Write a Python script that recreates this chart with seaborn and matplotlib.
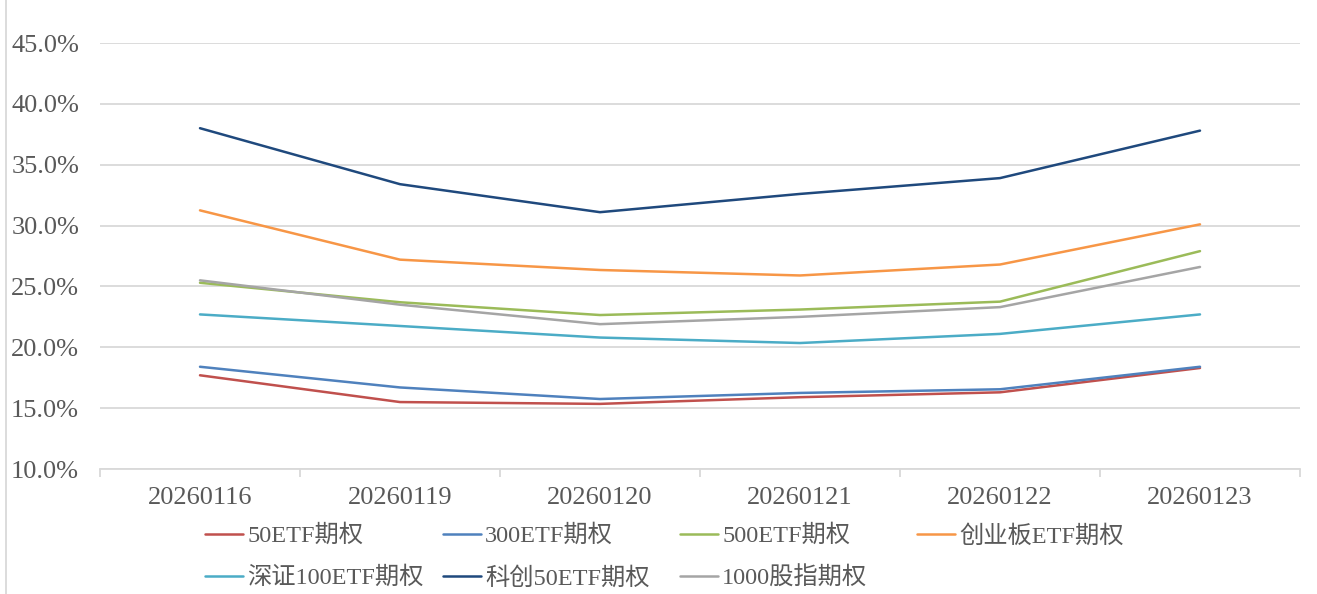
import numpy as np
import pandas as pd
import matplotlib
matplotlib.use('Agg')
import matplotlib.pyplot as plt
import seaborn as sns
from matplotlib.lines import Line2D
from matplotlib.ticker import FuncFormatter, FixedLocator

# data (implied vol, %)
dates = ['20260116', '20260119', '20260120', '20260121', '20260122', '20260123']
etf50 = [17.7, 15.5, 15.35, 15.9, 16.3, 18.3]
etf300 = [18.4, 16.7, 15.75, 16.25, 16.55, 18.4]
etf500 = [25.3, 23.7, 22.65, 23.1, 23.75, 27.9]
cyb = [31.25, 27.2, 26.35, 25.9, 26.8, 30.1]
sz100 = [22.7, 21.75, 20.8, 20.35, 21.1, 22.7]
kc50 = [38.0, 33.4, 31.1, 32.6, 33.9, 37.8]
idx1000 = [25.5, 23.5, 21.9, 22.5, 23.3, 26.6]

names = ['50ETF期权', '300ETF期权', '500ETF期权', '创业板ETF期权',
         '深证100ETF期权', '科创50ETF期权', '1000股指期权']
series = [etf50, etf300, etf500, cyb, sz100, kc50, idx1000]
colors = ['#C0504D', '#4F81BD', '#9BBB59', '#F79646', '#4BACC6', '#1F497D', '#A5A5A5']

rows = []
for n, vals in zip(names, series):
    for i, (d, v) in enumerate(zip(dates, vals)):
        rows.append({'pos': i, 'date': d, 'name': n, 'value': v})
df = pd.DataFrame(rows)

sns.set_style('white')
plt.rcParams['font.family'] = ['Liberation Serif', 'Noto Sans CJK SC', 'DejaVu Sans']
txt = '#595959'
grid_c = '#D9D9D9'

fig = plt.figure(figsize=(13.17, 5.94), dpi=100)
ax = fig.add_axes([100/1317, 1 - 469/594, 1200/1317, 426/594])

sns.lineplot(data=df, x='pos', y='value', hue='name', hue_order=names,
             palette=colors, linewidth=1.8, sort=False, legend=False, ax=ax)

ax.set_xlim(-0.5, 5.5)
ax.set_ylim(10, 45)
ax.set_yticks(np.arange(10, 46, 5))
ax.yaxis.set_major_formatter(FuncFormatter(lambda v, p: f'{v:.1f}%'))
ax.yaxis.grid(True, color=grid_c, linewidth=1.3)
ax.set_axisbelow(True)

ax.set_xticks(range(len(dates)))
ax.set_xticklabels(dates)
ax.xaxis.set_minor_locator(FixedLocator(np.arange(-0.5, 6, 1)))
ax.tick_params(axis='x', which='major', length=0, pad=13, labelsize=19, labelcolor=txt)
ax.tick_params(axis='x', which='minor', length=6, width=1.3, color=grid_c, bottom=True)
ax.tick_params(axis='y', length=0, pad=15, labelsize=19, labelcolor=txt)
ax.set_xlabel('')
ax.set_ylabel('')

for s in ['top', 'right', 'left']:
    ax.spines[s].set_visible(False)
ax.spines['bottom'].set_color(grid_c)
ax.spines['bottom'].set_linewidth(1.3)

# legend laid out on a fixed grid like the Excel original
col_x = [205/1317, 443/1317, 680/1317, 917/1317]
row_y = [1 - 536/594, 1 - 578/594]
for k, (n, c) in enumerate(zip(names, colors)):
    r, col = divmod(k, 4)
    h = Line2D([], [], color=c, linewidth=1.8)
    leg = fig.legend([h], [n], loc='center left', bbox_to_anchor=(col_x[col], row_y[r]),
                     frameon=False, fontsize=17.5, borderpad=0, borderaxespad=0,
                     handlelength=1.56, handletextpad=0.17)
    for t in leg.get_texts():
        t.set_color(txt)

fig.add_artist(Line2D([6/1317, 6/1317], [0, 1], color=grid_c, linewidth=1.3))

fig.savefig('out.png', dpi=100)
